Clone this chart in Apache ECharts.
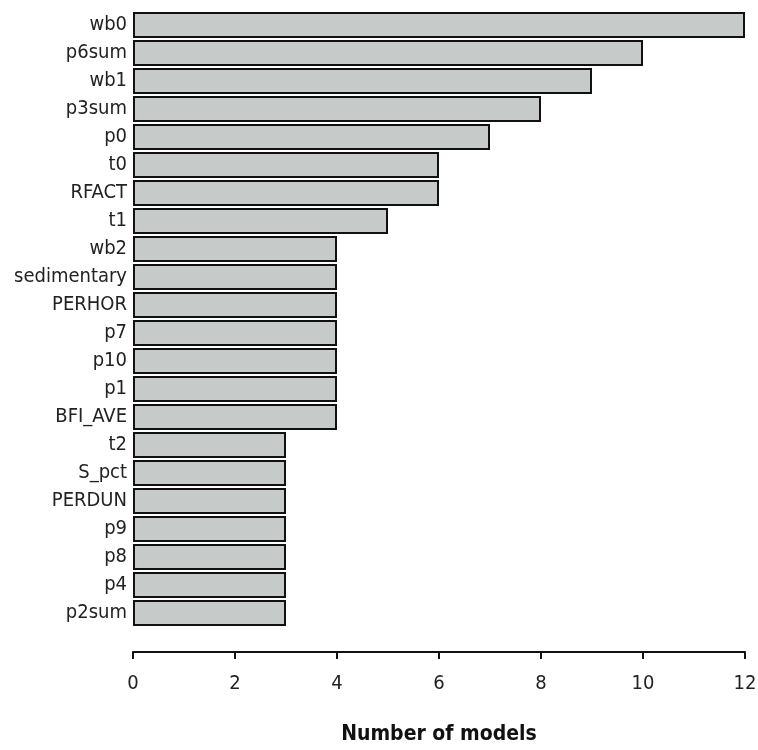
<!DOCTYPE html>
<html><head><meta charset="utf-8">
<script src="https://cdn.jsdelivr.net/npm/echarts@6/dist/echarts.min.js"></script>
<style>html,body{margin:0;padding:0;background:#fff}#c{width:758px;height:750px}</style>
</head><body><div id="c"></div>
<script>
const categories = ["wb0","p6sum","wb1","p3sum","p0","t0","RFACT","t1","wb2","sedimentary","PERHOR","p7","p10","p1","BFI_AVE","t2","S_pct","PERDUN","p9","p8","p4","p2sum"];
const values = [12,10,9,8,7,6,6,5,4,4,4,4,4,4,4,3,3,3,3,3,3,3];
const xTicks = [0,2,4,6,8,10,12];
const FONT = '"Liberation Sans Narrow","DejaVu Sans Condensed","Liberation Sans",sans-serif';
const chart = echarts.init(document.getElementById('c'), null, {renderer:'canvas'});
chart.setOption({
  animation:false,
  backgroundColor:'#ffffff',
  grid:{left:133,right:13,top:11,height:616,containLabel:false,outerBoundsMode:'none'},
  xAxis:{type:'value',min:xTicks[0],max:xTicks[xTicks.length-1],interval:2,offset:25,
    axisLine:{show:true,lineStyle:{color:'#111',width:2}},
    axisTick:{show:true,length:7,lineStyle:{color:'#111',width:2}},
    splitLine:{show:false},
    axisLabel:{color:'#222',fontSize:20,fontFamily:FONT,margin:22},
    name:'Number of models',nameLocation:'middle',nameGap:72,
    nameTextStyle:{color:'#111',fontSize:21,fontWeight:'bold',fontFamily:FONT}},
  yAxis:{type:'category',data:categories,inverse:true,
    axisLine:{show:false},axisTick:{show:false},
    axisLabel:{color:'#222',fontSize:20,fontFamily:FONT,margin:6}},
  series:[{type:'bar',data:values,barCategoryGap:'8%',
    itemStyle:{color:'#c6cac9',borderColor:'#111',borderWidth:2}}]
});
</script></body></html>
